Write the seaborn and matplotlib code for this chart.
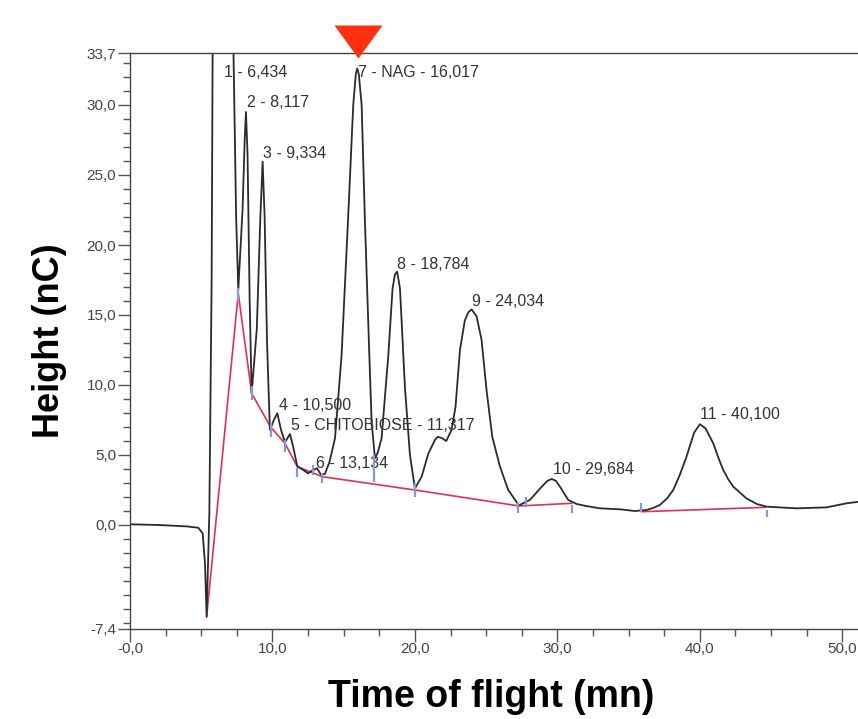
import numpy as np
import pandas as pd
import matplotlib
matplotlib.use("Agg")
import matplotlib.pyplot as plt
import seaborn as sns

# chromatogram trace (time in mn, height in nC)
time_mn = [0.0, 2.0, 4.0, 4.8, 5.1, 5.26, 5.38, 5.57, 5.73, 5.80, 6.434, 7.26, 7.45, 7.6,
           7.9, 8.05, 8.14, 8.25, 8.4, 8.54, 8.9, 9.15, 9.31, 9.45, 9.62, 9.82,
           10.1, 10.34, 10.6, 10.88, 11.05, 11.23, 11.45, 11.74, 12.16, 12.5, 12.8,
           13.13, 13.4, 13.68, 14.0, 14.39, 14.85, 15.3, 15.67, 15.85, 15.95, 16.06,
           16.26, 16.49, 16.8, 16.96, 17.19, 17.4, 17.66, 18.13, 18.43, 18.6, 18.75,
           18.95, 19.3, 19.65, 20.0, 20.47, 20.94, 21.4, 21.6, 21.9, 22.2, 22.57,
           22.85, 23.16, 23.5, 23.75, 23.98, 24.33, 24.68, 25.03, 25.43, 25.96,
           26.55, 27.3, 28.07, 28.9, 29.3, 29.6, 29.9, 30.18, 30.76, 31.35, 32.0,
           32.98, 34.4, 35.44, 36.26, 36.8, 37.19, 37.7, 38.13, 38.6, 39.06, 39.6,
           40.0, 40.4, 40.94, 41.3, 41.64, 42.0, 42.34, 43.27, 44.0, 44.68, 46.79,
           48.89, 50.3, 51.15]
height_nc = [0.05, 0.0, -0.1, -0.2, -0.6, -2.7, -6.55, 0.85, 17.5, 34.0, 45.0, 34.0, 22.0, 16.8,
             22.5, 27.5, 29.5, 26.5, 16.0, 9.4, 14.0, 22.0, 25.95, 22.0, 13.0, 6.8,
             7.5, 7.98, 6.8, 5.9, 6.2, 6.5, 5.6, 4.2, 3.93, 3.69, 3.9,
             4.05, 3.6, 3.65, 4.5, 6.2, 12.1, 21.7, 30.0, 32.2, 32.6, 32.2,
             30.0, 21.7, 12.1, 7.4, 4.76, 5.2, 6.2, 12.1, 16.9, 17.9, 18.1,
             16.9, 9.8, 5.0, 2.6, 3.45, 5.1, 6.07, 6.3, 6.2, 6.0, 6.8,
             8.45, 12.5, 14.6, 15.2, 15.4, 14.9, 13.2, 9.6, 6.3, 4.2,
             2.5, 1.4, 1.79, 2.74, 3.15, 3.29, 3.15, 2.74, 1.79, 1.5, 1.36,
             1.19, 1.12, 1.0, 1.07, 1.25, 1.43, 1.9, 2.5, 3.6, 4.88, 6.6,
             7.2, 6.9, 5.83, 4.8, 3.93, 3.25, 2.74, 1.9, 1.5, 1.31, 1.19,
             1.26, 1.55, 1.66]

# integration baseline (red), two separate segments
base_time = [5.38, 7.6, 8.54, 9.87, 10.88, 11.74, 13.5, 20.0, 27.3, 31.0, 35.9, 44.6]
base_height = [-6.55, 16.55, 9.4, 7.0, 5.83, 4.17, 3.45, 2.5, 1.36, 1.55, 0.95, 1.26]
base_group = [1, 1, 1, 1, 1, 1, 1, 1, 1, 1, 2, 2]

# peak start / end marks (blue ticks)
mark_time = [7.6, 8.54, 9.87, 10.88, 11.74, 12.84, 13.5, 17.1, 20.0, 27.2, 27.8, 31.0, 35.9, 44.7]
mark_low = [15.9, 8.9, 6.3, 5.2, 3.4, 3.6, 3.0, 3.1, 2.0, 0.83, 1.3, 0.83, 0.95, 0.6]
mark_high = [16.9, 9.9, 7.3, 6.1, 4.1, 4.3, 3.7, 5.0, 3.0, 1.66, 2.0, 1.43, 1.6, 1.07]

# peak labels
peak_labels = ["1 - 6,434", "2 - 8,117", "3 - 9,334", "4 - 10,500",
               "5 - CHITOBIOSE - 11,317", "6 - 13,134", "7 - NAG - 16,017",
               "8 - 18,784", "9 - 24,034", "10 - 29,684", "11 - 40,100"]
label_x = [6.6, 8.19, 9.36, 10.48, 11.3, 13.05, 16.02, 18.74, 23.98, 29.66, 40.0]
label_y = [32.3, 30.2, 26.55, 8.5, 7.14, 4.4, 32.3, 18.64, 15.95, 3.93, 7.86]

nag_time = 16.017

y_ticks = [33.7, 30.0, 25.0, 20.0, 15.0, 10.0, 5.0, 0.0, -7.4]
y_ticklabels = ["33,7", "30,0", "25,0", "20,0", "15,0", "10,0", "5,0", "0,0", "-7,4"]
x_ticks = [0, 10, 20, 30, 40, 50]
x_ticklabels = ["-0,0", "10,0", "20,0", "30,0", "40,0", "50,0"]

sns.set_theme(style="ticks")
plt.rcParams["font.family"] = ["Liberation Sans", "DejaVu Sans"]

trace = pd.DataFrame({"time": time_mn, "height": height_nc})
base = pd.DataFrame({"time": base_time, "height": base_height, "seg": base_group})

fig = plt.figure(figsize=(8.58, 7.19), dpi=100)
ax = fig.add_axes([130 / 858, (719 - 628.6) / 719, 1 - 130 / 858, (628.6 - 53.2) / 719])

sns.lineplot(data=base, x="time", y="height", units="seg", estimator=None,
             color="#e2304e", lw=1.2, ax=ax, sort=False)
sns.lineplot(data=trace, x="time", y="height", color="#2b2b2b", lw=1.3, ax=ax, sort=False)
ax.vlines(mark_time, mark_low, mark_high, color="#8a96d6", lw=1.6, zorder=4)

for txt, x, y in zip(peak_labels, label_x, label_y):
    ax.text(x, y, txt, fontsize=11.5, color="#333333", ha="left", va="center")

# red marker above the NAG peak
tri = [(-24, 16), (24, 16), (0, -17), (-24, 16)]
ax.plot([nag_time], [34.55], marker=tri, ms=34.6, color="#ff2f12", mec="none",
        clip_on=False, zorder=6)

ax.set_xlim(0, 51.1)
ax.set_ylim(-7.4, 33.7)
ax.set_xticks(x_ticks)
ax.set_xticklabels(x_ticklabels)
ax.set_yticks(y_ticks)
ax.set_yticklabels(y_ticklabels)
ax.set_xticks(np.arange(0, 51, 2.5), minor=True)
ax.set_yticks(np.arange(-7, 34, 1.0), minor=True)
ax.tick_params(axis="both", which="major", direction="out", length=9, width=1,
               color="#555555", labelcolor="#444444", labelsize=11, pad=1)
ax.tick_params(axis="both", which="minor", direction="out", length=5, width=1,
               color="#555555")

for side in ["left", "bottom", "top"]:
    ax.spines[side].set_color("#444444")
    ax.spines[side].set_linewidth(1.0)
ax.spines["right"].set_visible(False)

ax.set_xlabel("Time of flight (mn)", fontsize=27, fontweight="bold", color="black", va="center")
ax.set_ylabel("Height (nC)", fontsize=26, fontweight="bold", color="black", va="center")
ax.xaxis.set_label_coords(0.496, -0.119)
ax.yaxis.set_label_coords(-0.11, 0.5)

fig.savefig("out.png", dpi=100)
